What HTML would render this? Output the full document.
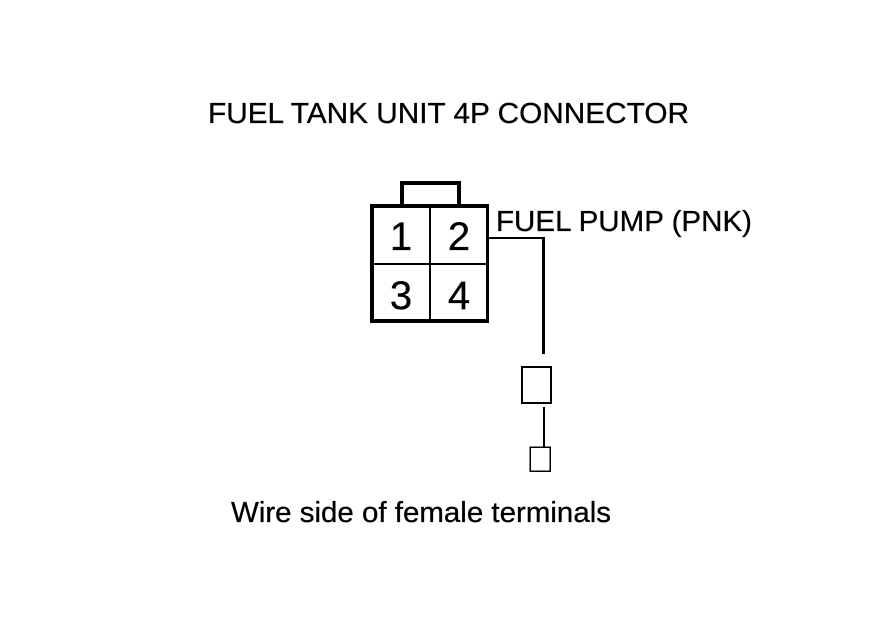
<!DOCTYPE html>
<html>
<head>
<meta charset="utf-8">
<style>
html,body{margin:0;padding:0;background:#fff;width:880px;height:630px;overflow:hidden}
svg{display:block}
text{font-family:"Liberation Sans",Arial,sans-serif;fill:#000;stroke:#000;stroke-width:.3}
</style>
</head>
<body>
<svg width="880" height="630" viewBox="0 0 880 630" xmlns="http://www.w3.org/2000/svg">
<rect width="880" height="630" fill="#fff"/>
<text x="208" y="123" font-size="29" textLength="481" lengthAdjust="spacingAndGlyphs">FUEL TANK UNIT 4P CONNECTOR</text>
<text x="496" y="231" font-size="29" textLength="256" lengthAdjust="spacingAndGlyphs">FUEL PUMP (PNK)</text>
<text x="231" y="522" font-size="29" textLength="380" lengthAdjust="spacingAndGlyphs">Wire side of female terminals</text>
<g shape-rendering="crispEdges" fill="#000" stroke="none">
<!-- connector outer border -->
<rect x="370" y="204" width="119" height="4"/>
<rect x="370" y="319" width="119" height="4"/>
<rect x="370" y="204" width="4" height="119"/>
<rect x="486" y="204" width="3" height="119"/>
<!-- latch tab -->
<rect x="400" y="181" width="61" height="4"/>
<rect x="400" y="181" width="4" height="24"/>
<rect x="457" y="181" width="4" height="24"/>
<!-- dividers -->
<rect x="429" y="206" width="2" height="115"/>
<rect x="372" y="263" width="115" height="2"/>
<!-- wire -->
<rect x="488" y="237" width="56" height="2"/>
<rect x="542" y="237" width="3" height="117"/>
<rect x="543" y="407" width="2" height="40"/>
</g>
<g shape-rendering="crispEdges" fill="none" stroke="#000">
<rect x="522" y="367" width="29" height="36" stroke-width="2"/>
<rect x="530" y="447" width="20" height="24" stroke-width="1.5"/>
</g>
<text x="401" y="250" font-size="40" text-anchor="middle">1</text>
<text x="459" y="250" font-size="40" text-anchor="middle">2</text>
<text x="401" y="309" font-size="40" text-anchor="middle">3</text>
<text x="459" y="309" font-size="40" text-anchor="middle">4</text>
</svg>
</body>
</html>
